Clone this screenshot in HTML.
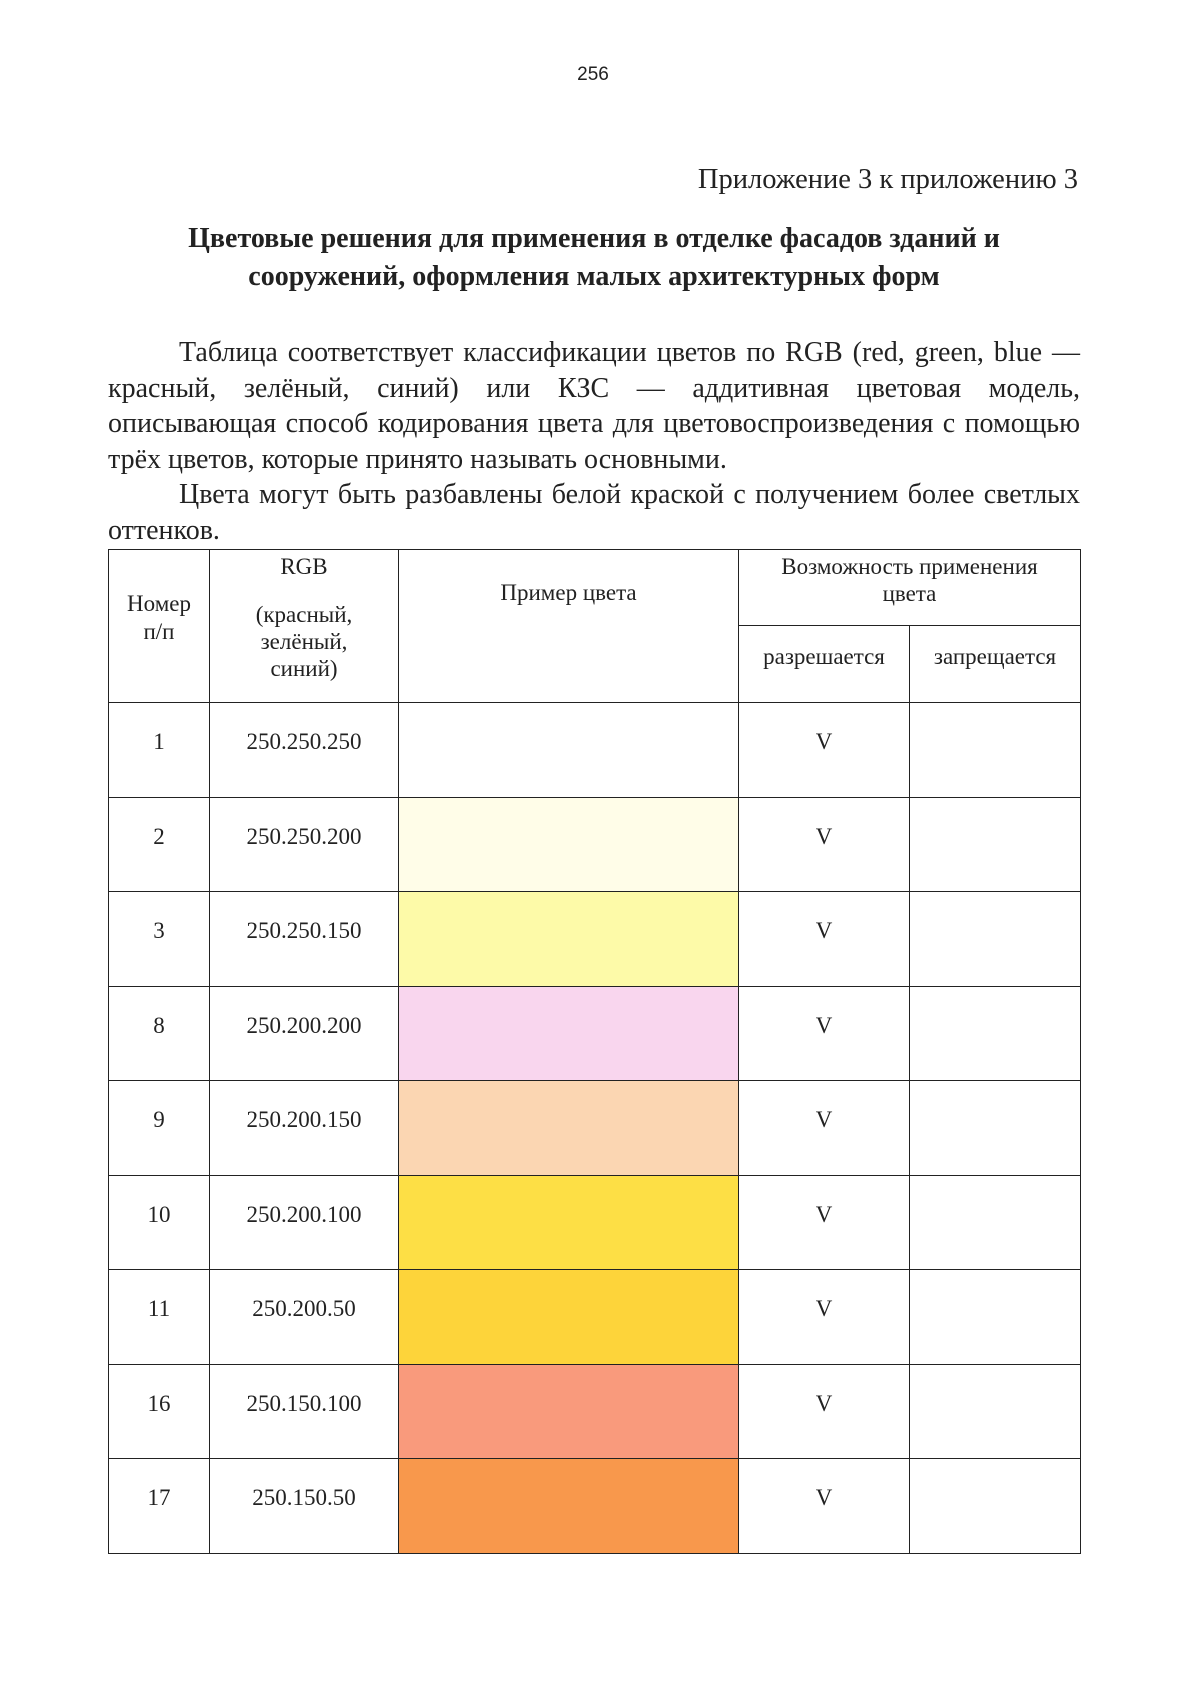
<!DOCTYPE html>
<html><head><meta charset="utf-8"><style>
body{margin:0;width:1200px;height:1697px;background:#fff;position:relative;font-family:"Liberation Serif","DejaVu Serif",serif;color:#222;overflow:hidden}
.a{position:absolute}
.p{font-size:28px;line-height:35.5px;position:absolute;left:108px;width:972px;text-align:justify}
table{position:absolute;left:108px;top:549px;border-collapse:collapse;table-layout:fixed;font-size:23px}
td{border:1.5px solid #222;text-align:center;padding:0;box-sizing:border-box;vertical-align:top}
tr.r td{height:94.5px;padding-top:26px}
</style></head><body>
<div class="a" style="left:0;width:1186px;top:64px;text-align:center;font-family:'Liberation Sans',sans-serif;font-size:19px">256</div>
<div class="a" style="right:122px;top:164px;font-size:28.5px">Приложение 3 к приложению 3</div>
<div class="a" style="left:88px;width:1012px;top:220px;text-align:center;font-size:28px;font-weight:bold;line-height:38px">Цветовые решения для применения в отделке фасадов зданий и<br>сооружений, оформления малых архитектурных форм</div>
<div class="p" style="top:335px;text-indent:71px">Таблица соответствует классификации цветов по RGB (red, green, blue — красный, зелёный, синий) или КЗС — аддитивная цветовая модель, описывающая способ кодирования цвета для цветовоспроизведения с помощью трёх цветов, которые принято называть основными.</div>
<div class="p" style="top:477px;text-indent:71px">Цвета могут быть разбавлены белой краской с получением более светлых оттенков.</div>
<table>
<colgroup><col style="width:101px"><col style="width:189px"><col style="width:340px"><col style="width:171px"><col style="width:171px"></colgroup>
<tr style="height:76px"><td rowspan="2" style="line-height:28px;padding-top:40px">Номер<br>п/п</td>
<td rowspan="2" style="line-height:27px;padding-top:3px">RGB<br><span style="display:block;height:21px"></span>(красный,<br>зелёный,<br>синий)</td>
<td rowspan="2" style="padding-top:30px">Пример цвета</td>
<td colspan="2" style="height:76px;line-height:27px;padding-top:3px">Возможность применения<br>цвета</td></tr>
<tr style="height:77px"><td style="height:77px;padding-top:18px">разрешается</td><td style="padding-top:18px">запрещается</td></tr>
<tr class="r"><td>1</td><td>250.250.250</td><td style="background:#fff"></td><td>V</td><td></td></tr>
<tr class="r"><td>2</td><td>250.250.200</td><td style="background:#fffde8"></td><td>V</td><td></td></tr>
<tr class="r"><td>3</td><td>250.250.150</td><td style="background:#fdfaa8"></td><td>V</td><td></td></tr>
<tr class="r"><td>8</td><td>250.200.200</td><td style="background:#f9d6ee"></td><td>V</td><td></td></tr>
<tr class="r"><td>9</td><td>250.200.150</td><td style="background:#fbd6b2"></td><td>V</td><td></td></tr>
<tr class="r"><td>10</td><td>250.200.100</td><td style="background:#fddf45"></td><td>V</td><td></td></tr>
<tr class="r"><td>11</td><td>250.200.50</td><td style="background:#fdd43a"></td><td>V</td><td></td></tr>
<tr class="r"><td>16</td><td>250.150.100</td><td style="background:#f99a7c"></td><td>V</td><td></td></tr>
<tr class="r"><td>17</td><td>250.150.50</td><td style="background:#f8984c"></td><td>V</td><td></td></tr>
</table>
</body></html>
